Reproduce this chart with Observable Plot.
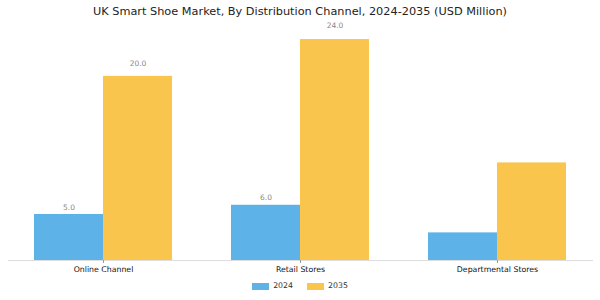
<!DOCTYPE html>
<html>
<head>
<meta charset="utf-8">
<script src="https://cdn.jsdelivr.net/npm/d3@7"></script>
<script src="https://cdn.jsdelivr.net/npm/@observablehq/plot@0.6"></script>
<style>
  html, body { margin: 0; padding: 0; background: #fff; }
  #wrap { position: relative; width: 600px; height: 300px; font-family: "DejaVu Sans", sans-serif; }
  #title { position: absolute; top: 3px; left: 0; width: 600px; text-align: center; font-size: 11.3px; color: #222; line-height: 18px; }
  #legend { position: absolute; top: 280px; left: 0; width: 600px; display: flex; justify-content: center; gap: 14px; font-size: 7.8px; color: #333; line-height: 12px; }
  .item { display: flex; align-items: center; gap: 4px; }
  .sw { width: 17px; height: 7px; display: inline-block; }
  #chart { position: absolute; top: 0; left: 0; }
</style>
</head>
<body>
<div id="wrap">
  <div id="chart"></div>
  <div id="title">UK Smart Shoe Market, By Distribution Channel, 2024-2035 (USD Million)</div>
  <div id="legend"></div>
</div>
<script>
const categories = ["Online Channel", "Retail Stores", "Departmental Stores"];
const years = ["2024", "2035"];
const values2024 = [5.0, 6.0, 3.0];
const values2035 = [20.0, 24.0, 10.6];
const labels2024 = ["5.0", "6.0", null];
const labels2035 = ["20.0", "24.0", null];
const colors = ["#5DB3E7", "#F9C54D"];

const rows = [];
categories.forEach((c, i) => {
  rows.push({category: c, year: "2024", value: values2024[i], label: labels2024[i]});
  rows.push({category: c, year: "2035", value: values2035[i], label: labels2035[i]});
});
const r24 = rows.filter(d => d.year === "2024");
const r35 = rows.filter(d => d.year === "2035");

const W = 600, ml = 34, mr = 34;
const step = (W - ml - mr) / (3 - 0.3);
const bw = step * 0.7;
const half = bw / 2;

const chart = Plot.plot({
  width: 600,
  height: 300,
  marginLeft: ml,
  marginRight: mr,
  marginTop: 28,
  marginBottom: 40,
  style: {fontFamily: "DejaVu Sans, sans-serif", overflow: "visible", background: "transparent"},
  x: {domain: categories, paddingInner: 0.3, paddingOuter: 0, label: null},
  y: {domain: [0, 25.2], axis: null},
  marks: [
    Plot.barY(r24, {x: "category", y: "value", fill: colors[0], insetRight: half}),
    Plot.barY(r35, {x: "category", y: "value", fill: colors[1], insetLeft: half}),
    Plot.ruleY([0], {stroke: "#dddddd", strokeWidth: 1, insetLeft: -26, insetRight: -27}),
    Plot.text(r24.filter(d => d.label), {x: "category", y: d => d.value * 1.04 + 0.6, text: "label", dx: -half / 2, fill: "#888", fontSize: 7.5}),
    Plot.text(r35.filter(d => d.label), {x: "category", y: d => d.value * 1.04 + 0.6, text: "label", dx: half / 2, fill: "#888", fontSize: 7.5}),
    Plot.axisX({tickSize: 3, tickPadding: 2.5, fontSize: 7.8, stroke: "#999", color: "#111", label: null})
  ]
});
document.getElementById("chart").appendChild(chart);

const legend = document.getElementById("legend");
years.forEach((y, i) => {
  const it = document.createElement("div");
  it.className = "item";
  const sw = document.createElement("span");
  sw.className = "sw";
  sw.style.background = colors[i];
  const t = document.createElement("span");
  t.textContent = y;
  it.appendChild(sw);
  it.appendChild(t);
  legend.appendChild(it);
});
</script>
</body>
</html>
